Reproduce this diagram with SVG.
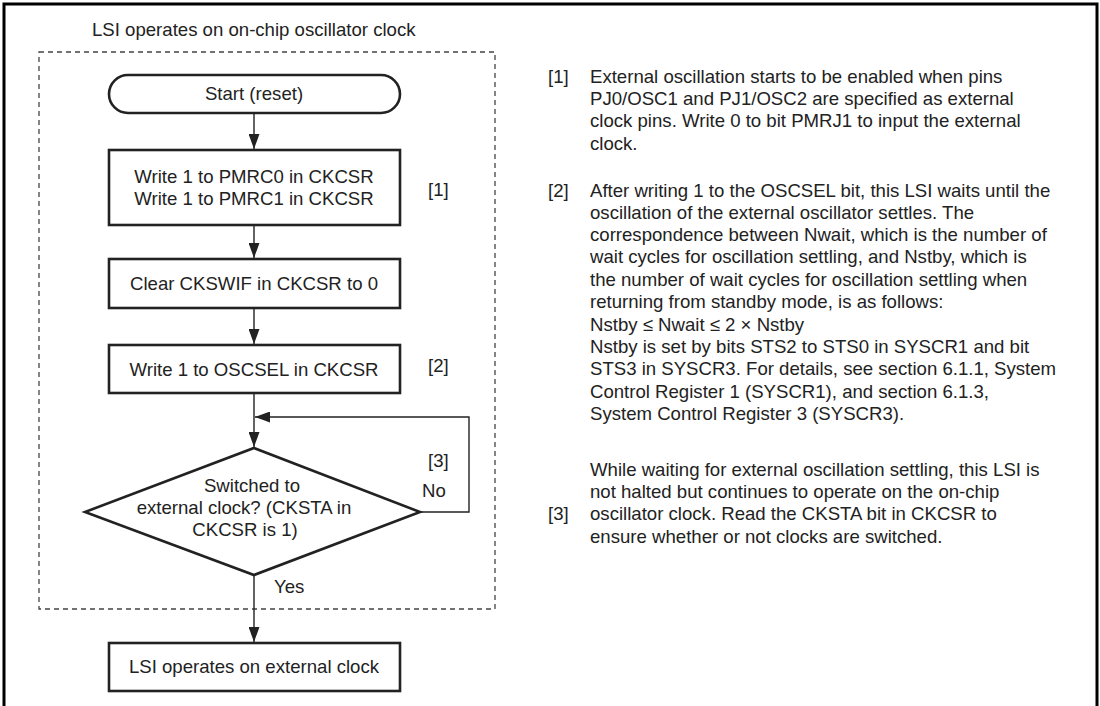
<svg xmlns="http://www.w3.org/2000/svg" width="1100" height="706" viewBox="0 0 1100 706">
<style>
text{font-family:"Liberation Sans",Arial,sans-serif;font-size:18.6px;fill:#222}
.c{text-anchor:middle}
.box{fill:#fff;stroke:#222;stroke-width:2.6}
.ln{fill:none;stroke:#222;stroke-width:1.4}
</style>
<defs>
<marker id="ah" markerUnits="userSpaceOnUse" markerWidth="15" markerHeight="11" refX="15" refY="5.5" orient="auto" viewBox="0 0 15 11">
<path d="M0,0 L15,5.5 L0,11 Z" fill="#222"/>
</marker>
</defs>
<rect width="1100" height="706" fill="#fff"/>
<path d="M4,706 V4 H1097 V706" fill="none" stroke="#000" stroke-width="3"/>
<text x="92" y="36">LSI operates on on-chip oscillator clock</text>
<rect x="39" y="52" width="456" height="557" fill="none" stroke="#444" stroke-width="1.3" stroke-dasharray="5,4"/>
<g id="connectors">
<line class="ln" x1="254" y1="113" x2="254" y2="149" marker-end="url(#ah)"/>
<line class="ln" x1="254" y1="225" x2="254" y2="258" marker-end="url(#ah)"/>
<line class="ln" x1="254" y1="308" x2="254" y2="344" marker-end="url(#ah)"/>
<line class="ln" x1="254" y1="393" x2="254" y2="447" marker-end="url(#ah)"/>
<polyline class="ln" points="420,512 469,512 469,417 255,417" marker-end="url(#ah)"/>
<line class="ln" x1="254" y1="575" x2="254" y2="642" marker-end="url(#ah)"/>
</g>
<g id="start">
<rect class="box" x="109" y="75" width="291" height="38" rx="19" ry="19"/>
<text class="c" x="254" y="100">Start (reset)</text>
</g>
<g id="step1">
<rect class="box" x="109" y="150" width="291" height="75"/>
<text class="c" x="254" y="183">Write 1 to PMRC0 in CKCSR</text>
<text class="c" x="254" y="205">Write 1 to PMRC1 in CKCSR</text>
</g>
<g id="step2">
<rect class="box" x="109" y="259" width="291" height="49"/>
<text class="c" x="254" y="290">Clear CKSWIF in CKCSR to 0</text>
</g>
<g id="step3">
<rect class="box" x="109" y="345" width="291" height="48"/>
<text class="c" x="254" y="376">Write 1 to OSCSEL in CKCSR</text>
</g>
<g id="decision">
<polygon class="box" points="254,448 420,512 254,575 85,512"/>
<text class="c" x="252" y="492">Switched to</text>
<text class="c" x="244" y="514">external clock? (CKSTA in</text>
<text class="c" x="245" y="536">CKCSR is 1)</text>
</g>
<g id="end">
<rect class="box" x="109" y="643" width="291" height="48"/>
<text class="c" x="254" y="673">LSI operates on external clock</text>
</g>
<g id="labels">
<text x="428" y="196">[1]</text>
<text x="428" y="372">[2]</text>
<text x="428" y="467">[3]</text>
<text x="422" y="497">No</text>
<text x="274" y="593">Yes</text>
</g>
<g id="notes">
<text x="548" y="83">[1]</text>
<text x="590" y="83">External oscillation starts to be enabled when pins</text>
<text x="590" y="105">PJ0/OSC1 and PJ1/OSC2 are specified as external</text>
<text x="590" y="127">clock pins. Write 0 to bit PMRJ1 to input the external</text>
<text x="590" y="150">clock.</text>
<text x="548" y="197">[2]</text>
<text x="590" y="197">After writing 1 to the OSCSEL bit, this LSI waits until the</text>
<text x="590" y="219">oscillation of the external oscillator settles. The</text>
<text x="590" y="241">correspondence between Nwait, which is the number of</text>
<text x="590" y="263">wait cycles for oscillation settling, and Nstby, which is</text>
<text x="590" y="286">the number of wait cycles for oscillation settling when</text>
<text x="590" y="308">returning from standby mode, is as follows:</text>
<text x="590" y="331">Nstby ≤ Nwait ≤ 2 × Nstby</text>
<text x="590" y="353">Nstby is set by bits STS2 to STS0 in SYSCR1 and bit</text>
<text x="590" y="375">STS3 in SYSCR3. For details, see section 6.1.1, System</text>
<text x="590" y="398">Control Register 1 (SYSCR1), and section 6.1.3,</text>
<text x="590" y="420">System Control Register 3 (SYSCR3).</text>
<text x="590" y="476">While waiting for external oscillation settling, this LSI is</text>
<text x="590" y="498">not halted but continues to operate on the on-chip</text>
<text x="548" y="520">[3]</text>
<text x="590" y="520">oscillator clock. Read the CKSTA bit in CKCSR to</text>
<text x="590" y="543">ensure whether or not clocks are switched.</text>
</g>
</svg>
